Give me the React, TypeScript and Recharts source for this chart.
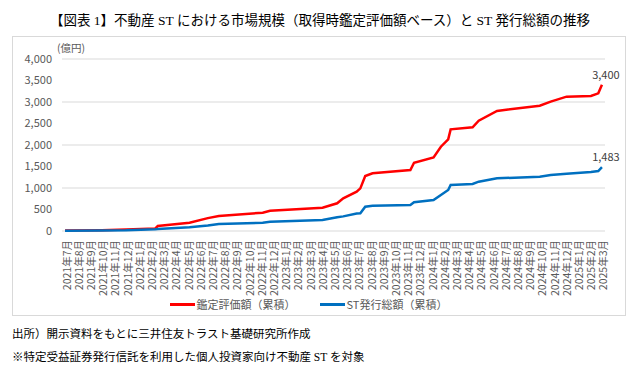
import { LineChart, Line, XAxis, YAxis, CartesianGrid, Legend, LabelList } from 'recharts';

// 2021年7月 … 2025年3月
const monthLabels = [
  '2021年7月', '2021年8月', '2021年9月', '2021年10月', '2021年11月', '2021年12月',
  '2022年1月', '2022年2月', '2022年3月', '2022年4月', '2022年5月', '2022年6月',
  '2022年7月', '2022年8月', '2022年9月', '2022年10月', '2022年11月', '2022年12月',
  '2023年1月', '2023年2月', '2023年3月', '2023年4月', '2023年5月', '2023年6月',
  '2023年7月', '2023年8月', '2023年9月', '2023年10月', '2023年11月', '2023年12月',
  '2024年1月', '2024年2月', '2024年3月', '2024年4月', '2024年5月', '2024年6月',
  '2024年7月', '2024年8月', '2024年9月', '2024年10月', '2024年11月', '2024年12月',
  '2025年1月', '2025年2月', '2025年3月',
];

// position along the month axis (0 = 2021年7月)
const timeIdx = [
  0, 3, 5, 7.4, 7.6, 10.2, 11.7, 12.6, 16.2, 16.8, 21.1, 22.3, 22.8, 23.9, 24.2, 24.6,
  25.2, 28.3, 28.6, 30.2, 30.8, 31.4, 31.6, 33.4, 33.9, 35.4, 38.9, 39.8, 41.1, 43.1, 43.7, 44,
];

// 鑑定評価額（累積）, 億円
const appraisal = [
  10, 20, 35, 60, 116, 193, 300, 350, 426, 472, 542, 644, 760, 914, 992, 1279,
  1341, 1418, 1588, 1713, 1961, 2132, 2364, 2411, 2566, 2791, 2915, 3008, 3124, 3140, 3202, 3400,
];

// ST発行総額（累積）, 億円
const issuance = [
  5, 10, 15, 40, 45, 85, 130, 165, 193, 216, 256, 320, 340, 405, 411, 565,
  588, 605, 667, 721, 837, 953, 1070, 1093, 1147, 1225, 1264, 1302, 1330, 1370, 1395, 1483,
];

const yTicks = [0, 500, 1000, 1500, 2000, 2500, 3000, 3500, 4000];

const data = timeIdx.map((t, i) => ({ t, appraisal: appraisal[i], issuance: issuance[i] }));
const monthTicks = monthLabels.map((_, i) => i);

const FONT = "'Noto Sans CJK JP', 'Noto Sans', sans-serif";
const SERIF = "'Liberation Serif', 'Noto Sans CJK JP', serif";

function fmt(v: number) {
  return v.toLocaleString('en-US');
}

function MonthTick({ x, y, payload }: any) {
  return (
    <text
      x={x + 1}
      y={y + 1}
      transform={`rotate(-90, ${x + 1}, ${y + 1})`}
      textAnchor="end"
      dominantBaseline="central"
      fontSize={10.5}
      fontFamily={FONT}
      fill="#595959"
    >
      {monthLabels[payload.value]}
    </text>
  );
}

function endLabel({ x, y, index, value }: any) {
  if (index !== data.length - 1) return null;
  return (
    <text x={x + 4} y={y - 6} textAnchor="middle" fontSize={11} fontFamily={FONT} fill="#404040">
      {fmt(value)}
    </text>
  );
}

function LegendBox() {
  const items = [
    { name: '鑑定評価額（累積）', color: '#ff0000' },
    { name: 'ST発行総額（累積）', color: '#0070c0' },
  ];
  return (
    <div style={{ height: 24, display: 'flex', justifyContent: 'center', alignItems: 'center', gap: 24 }}>
      {items.map(it => (
        <div key={it.name} style={{ display: 'flex', alignItems: 'center', fontSize: 11, color: '#595959', fontFamily: FONT }}>
          <span style={{ display: 'inline-block', width: 25, height: 3, background: it.color, marginRight: 2 }} />
          {it.name}
        </div>
      ))}
    </div>
  );
}

export default function App() {
  return (
    <div style={{ position: 'absolute', left: 0, top: 0, width: 640, height: 373, background: '#fff', fontFamily: FONT }}>
      <div style={{ position: 'absolute', left: 0, top: 9, width: 640, textAlign: 'center', fontSize: 13.5, fontFamily: SERIF, color: '#000' }}>
        【図表 1】不動産 ST における市場規模（取得時鑑定評価額ベース）と ST 発行総額の推移
      </div>
      <div style={{ position: 'absolute', left: 12, top: 36, width: 612, height: 278, border: '1px solid #d9d9d9' }} />
      <div style={{ position: 'absolute', left: 57, top: 40, fontSize: 10.5, color: '#595959' }}>(億円)</div>
      <div style={{ position: 'absolute', left: 12, top: 36 }}>
        <LineChart width={614} height={280} data={data} margin={{ top: 23, right: 21, bottom: 0, left: 0 }}>
          <CartesianGrid vertical={false} stroke="#d9d9d9" />
          <XAxis
            dataKey="t"
            type="number"
            domain={[-0.25, 44.25]}
            ticks={monthTicks}
            interval={0}
            tick={<MonthTick />}
            tickLine={false}
            axisLine={false}
            height={61}
          />
          <YAxis
            domain={[0, 4000]}
            ticks={yTicks}
            tickFormatter={fmt}
            tick={{ fontSize: 11, fill: '#595959', fontFamily: FONT }}
            tickLine={false}
            axisLine={false}
            tickMargin={4}
            width={50}
          />
          <Legend verticalAlign="bottom" content={<LegendBox />} />
          <Line dataKey="appraisal" name="鑑定評価額（累積）" stroke="#ff0000" strokeWidth={2.5} dot={false} isAnimationActive={false}>
            <LabelList dataKey="appraisal" content={endLabel} />
          </Line>
          <Line dataKey="issuance" name="ST発行総額（累積）" stroke="#0070c0" strokeWidth={2.5} dot={false} isAnimationActive={false}>
            <LabelList dataKey="issuance" content={endLabel} />
          </Line>
        </LineChart>
      </div>
      <div style={{ position: 'absolute', left: 12, top: 325, fontSize: 11.5, fontFamily: SERIF, color: '#000' }}>
        出所）開示資料をもとに三井住友トラスト基礎研究所作成
      </div>
      <div style={{ position: 'absolute', left: 12, top: 348, fontSize: 11.5, fontFamily: SERIF, color: '#000' }}>
        ※特定受益証券発行信託を利用した個人投資家向け不動産 ST を対象
      </div>
    </div>
  );
}
